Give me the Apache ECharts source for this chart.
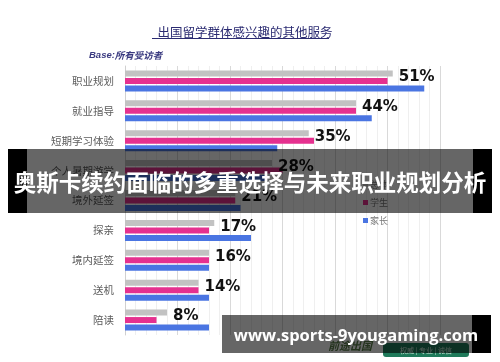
<!DOCTYPE html>
<html>
<head>
<meta charset="utf-8">
<script src="https://cdn.jsdelivr.net/npm/echarts@6/dist/echarts.min.js"></script>
<style>html,body{margin:0;padding:0;background:#fff;}#c{width:500px;height:362px;}</style>
</head>
<body>
<div id="c"></div>
<script>
const categories = ['职业规划','就业指导','短期学习体验','个人暑期游学','境外延签','探亲','境内延签','送机','陪读'];
const seriesNames = ['总体','学生','家长'];
const totalValues = [51,44,35,28,21,17,16,14,8];
const studentValues = [50,44,36,30,21,16,16,14,6];
const parentValues = [57,47,29,27,22,24,16,16,16];
const axisMin = 0, axisMax = 60, axisInterval = 10;
const chartTitle = '出国留学群体感兴趣的其他服务';
const bannerText = '奥斯卡续约面临的多重选择与未来职业规划分析';
const watermarkText = 'www.sports-9yougaming.com';

const cjk = "'Noto Sans CJK SC', sans-serif";
const chart = echarts.init(document.getElementById('c'), null, {renderer:'canvas'});
chart.setOption({
  animation:false,
  backgroundColor:'#fff',
  title:[{
    text: chartTitle, left: 240, top: 21, textAlign:'center',
    textStyle:{fontFamily:cjk, fontSize:12.5, fontWeight:'normal', color:'#2b2b72'}
  },{
    text: '{b|Base:}{c|所有受访者}', left: 84, top: 45,
    textStyle:{rich:{
      b:{fontFamily:'Liberation Sans, Arial', fontSize:9.5, fontWeight:'bold', fontStyle:'italic', color:'#3a3a80'},
      c:{fontFamily:cjk, fontSize:9.5, fontStyle:'italic', color:'#3a3a80'}
    }}
  }],
  legend:{
    orient:'vertical', left:358, top:175, itemWidth:5, itemHeight:5, itemGap:9,
    icon:'rect', data: seriesNames,
    textStyle:{fontFamily:cjk, fontSize:9, color:'#777', padding:[0,0,0,-3]}
  },
  grid:{left:125, right:60, top:66, bottom:27, containLabel:false},
  xAxis:{
    type:'value', min:axisMin, max:axisMax, interval:axisInterval,
    axisLabel:{show:false}, axisTick:{show:false}, axisLine:{show:false},
    splitLine:{show:true, lineStyle:{color:'#d9d9d9', width:1}},
    minorTick:{show:false, splitNumber:5},
    minorSplitLine:{show:true, lineStyle:{color:'#efefef', width:1}}
  },
  yAxis:{
    type:'category', data: categories, inverse:true,
    axisTick:{show:false}, axisLine:{show:true, lineStyle:{color:'#d0d0d0'}},
    axisLabel:{fontFamily:cjk, fontSize:10.5, color:'#5c5c5c', margin:11}
  },
  series:[
    {name:seriesNames[0], type:'bar', data: totalValues, barWidth:6, barGap:'25%',
     itemStyle:{color:'#c2c2c2'},
     label:{show:true, position:'right', distance:6, offset:[0,4], formatter:'{c}%',
       fontFamily:'DejaVu Sans', fontSize:15, fontWeight:'bold', color:'#111'}},
    {name:seriesNames[1], type:'bar', data: studentValues, barWidth:6, barGap:'25%',
     itemStyle:{color:'#e5318f'}},
    {name:seriesNames[2], type:'bar', data: parentValues, barWidth:6, barGap:'25%',
     itemStyle:{color:'#4a75e2'}}
  ],
  graphic:[
    {type:'line', z:100, shape:{x1:152,y1:38.5,x2:329,y2:38.5}, style:{stroke:'#2b2b72', lineWidth:1}},
    {type:'rect', z:100, shape:{x:8,y:149,width:19,height:64}, style:{fill:'#000'}},
    {type:'rect', z:100, shape:{x:473,y:149,width:19,height:64}, style:{fill:'#000'}},
    {type:'rect', z:101, shape:{x:27,y:149,width:446,height:64}, style:{fill:'rgba(0,0,0,0.6)'}},
    {type:'text', z:103, x:250, y:182, style:{text:bannerText, fill:'#fff', font:"bold 22.5px 'Noto Sans CJK SC'", textAlign:'center', textVerticalAlign:'middle'}},
    {type:'rect', z:98, shape:{x:383,y:343,width:86,height:14,r:3}, style:{fill:'#1f7a5a'}},
    {type:'text', z:99, x:426, y:350, style:{text:'权威 | 专业 | 诚信', fill:'#cfe8dc', font:"7px 'Noto Sans CJK SC'", textAlign:'center', textVerticalAlign:'middle'}},
    {type:'text', z:99, x:350, y:346, style:{text:'前途出国', fill:'#5a7f4a', font:"italic bold 11px 'Noto Sans CJK SC'", textAlign:'center', textVerticalAlign:'middle'}},
    {type:'rect', z:100, shape:{x:472,y:315,width:19,height:38}, style:{fill:'#000'}},
    {type:'rect', z:100, shape:{x:222,y:315,width:250,height:38}, style:{fill:'rgba(0,0,0,0.6)'}},
    {type:'text', z:103, x:356, y:336, style:{text:watermarkText, fill:'#fff', font:"bold 16.5px 'Open Sans'", textAlign:'center', textVerticalAlign:'middle'}}
  ]
});
</script>
</body>
</html>
